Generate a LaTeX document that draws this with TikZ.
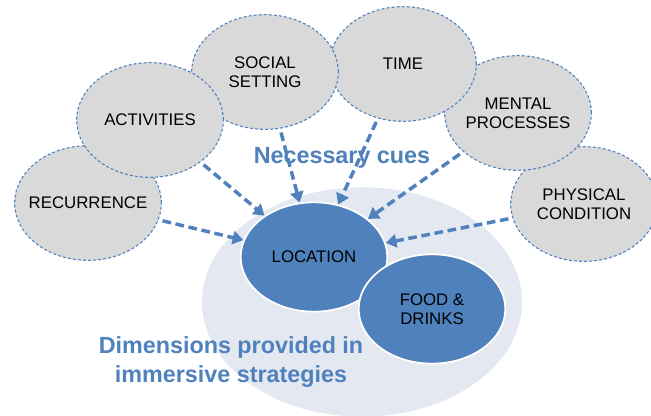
\documentclass[tikz,border=0pt]{standalone}
\usepackage{fontspec}
\setmainfont{Liberation Sans}
\usetikzlibrary{shapes.geometric,arrows.meta}
\definecolor{cueblue}{HTML}{4F81BD}
\definecolor{cuegray}{HTML}{D9D9D9}
\definecolor{dimfill}{HTML}{E3E8F1}
\begin{document}
\begin{tikzpicture}[x=0.75pt,y=-0.75pt,
  cue/.style={ellipse,draw=cueblue,line width=0.8pt,dash pattern=on 2.2pt off 1.6pt,fill=cuegray,
    minimum width=110pt,minimum height=86pt,inner xsep=-6pt,inner ysep=0pt,align=center,font=\fontsize{12.6}{14}\selectfont},
  dim/.style={ellipse,draw=white,line width=1.3pt,fill=cueblue,
    minimum width=110pt,minimum height=82pt,inner sep=0pt,align=center,font=\fontsize{12.6}{14}\selectfont},
  cuearrow/.style={draw=cueblue,line width=2.6pt,dash pattern=on 6.5pt off 3.5pt,
    -{Triangle[length=8pt,width=10pt]},shorten <=3pt},
  heading/.style={text=cueblue,align=center,font=\bfseries\fontsize{17.5}{21.7}\selectfont}]
\useasboundingbox (0,0) rectangle (651,416);
\fill[white] (0,0) rectangle (651,416);
\node[ellipse,fill=dimfill,minimum width=240pt,minimum height=172pt] (dims) at (362,302) {};
\node[cue] (rec) at (88,203) {RECURRENCE};
\node[cue] (phys) at (584,204) {PHYSICAL\\CONDITION};
\node[cue] (mental) at (518,113) {MENTAL\\PROCESSES};
\node[cue] (time) at (403,64) {TIME};
\node[cue] (social) at (265,72) {SOCIAL\\SETTING};
\node[cue] (act) at (150,120) {ACTIVITIES};
\node[dim] (loc) at (314,257) {LOCATION};
\node[dim] (food) at (432,309) {FOOD \&\\DRINKS};
\node[heading] (cues) at (342,158) {Necessary cues};
\node[heading] (dimtext) at (231,362) {Dimensions provided in\\immersive strategies};
\draw[cuearrow] (rec) -- (loc);
\draw[cuearrow] (act) -- (loc);
\draw[cuearrow] (social) -- (loc);
\draw[cuearrow] (time) -- (loc);
\draw[cuearrow] (mental) -- (loc);
\draw[cuearrow] (phys) -- (loc);
\end{tikzpicture}
\end{document}
